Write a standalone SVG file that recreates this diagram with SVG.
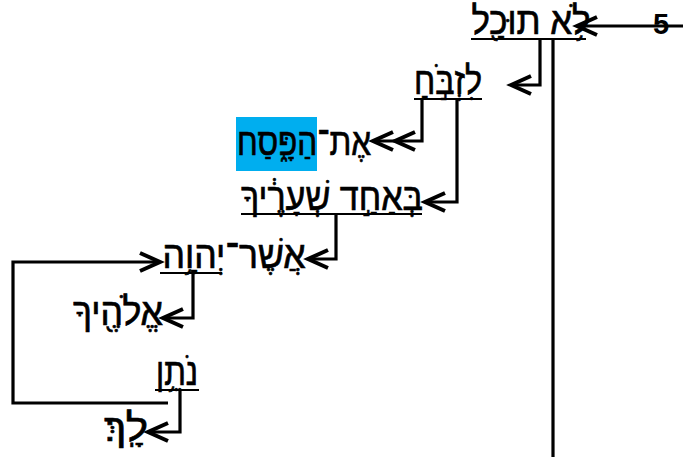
<svg xmlns="http://www.w3.org/2000/svg" width="683" height="457" viewBox="0 0 683 457">
<style>
.t{font-family:"Liberation Sans","DejaVu Sans",sans-serif;font-size:38px;fill:#000;stroke:#000;stroke-width:0.7;text-anchor:middle;direction:rtl}
.n{font-family:"Liberation Sans",sans-serif;font-size:29px;font-weight:bold;fill:#000;text-anchor:middle}
.c{fill:none;stroke:#000;stroke-width:3.2}
.u{stroke:#000;stroke-width:2}
</style>
<defs>
<marker id="a" markerUnits="userSpaceOnUse" markerWidth="30" markerHeight="30" viewBox="-25 -15 30 30" refX="0" refY="0" orient="auto" overflow="visible">
<path d="M-20,-9 L0,0 L-20,9" fill="none" stroke="#000" stroke-width="4"/>
</marker>
<marker id="aa" markerUnits="userSpaceOnUse" markerWidth="50" markerHeight="30" viewBox="-45 -15 50 30" refX="0" refY="0" orient="auto" overflow="visible">
<path d="M-20,-9 L0,0 L-20,9 M-42,-9 L-22,0 L-42,9" fill="none" stroke="#000" stroke-width="4"/>
</marker>
</defs>
<rect x="236" y="117" width="81" height="54" fill="#00AEEF"/>
<g id="connectors">
<path class="c" d="M683,26 H577" marker-end="url(#a)"/>
<path class="c" d="M553,39 V457"/>
<path class="c" d="M540,39 V85 H511" marker-end="url(#a)"/>
<path class="c" d="M422,99 V141 H373" marker-end="url(#aa)"/>
<path class="c" d="M457,99 V202 H425" marker-end="url(#a)"/>
<path class="c" d="M336,214 V259 H308" marker-end="url(#a)"/>
<path class="c" d="M193,273 V318 H163" marker-end="url(#a)"/>
<path class="c" d="M168,403 H13 V262 H160" marker-end="url(#a)"/>
<path class="c" d="M180,390 V432 H148" marker-end="url(#a)"/>
</g>
<g id="n5"><text class="n" x="661" y="34">5</text></g>
<g id="lo-tokhal"><text class="t" x="531" y="34" textLength="119" lengthAdjust="spacingAndGlyphs">לֹ֥א תוּכַ֖ל</text><line class="u" x1="471" y1="39" x2="586" y2="39"/></g>
<g id="lizboach"><text class="t" x="448" y="94" textLength="68" lengthAdjust="spacingAndGlyphs">לִזְבֹּ֣חַ</text><line class="u" x1="414" y1="99" x2="482" y2="99"/></g>
<g id="et-hapesach"><text class="t" x="304" y="155" textLength="134" lengthAdjust="spacingAndGlyphs">אֶת־הַפָּ֑סַח</text></g>
<g id="beachad"><text class="t" x="332" y="210" textLength="182" lengthAdjust="spacingAndGlyphs">בְּאַחַ֣ד שְׁעָרֶ֔יךָ</text><line class="u" x1="241" y1="214" x2="422" y2="214"/></g>
<g id="asher"><text class="t" x="234" y="268" textLength="143" lengthAdjust="spacingAndGlyphs">אֲשֶׁר־יְהוָ֥ה</text><line class="u" x1="160" y1="273" x2="222" y2="273"/></g>
<g id="elohekha"><text class="t" x="118" y="325" textLength="90" lengthAdjust="spacingAndGlyphs">אֱלֹהֶ֖יךָ</text></g>
<g id="noten"><text class="t" x="177" y="385" textLength="42" lengthAdjust="spacingAndGlyphs">נֹתֵ֥ן</text><line class="u" x1="155" y1="390" x2="199" y2="390"/></g>
<g id="lakh"><text class="t" x="126" y="441" textLength="44" lengthAdjust="spacingAndGlyphs">לָֽךְ׃</text></g>
</svg>
